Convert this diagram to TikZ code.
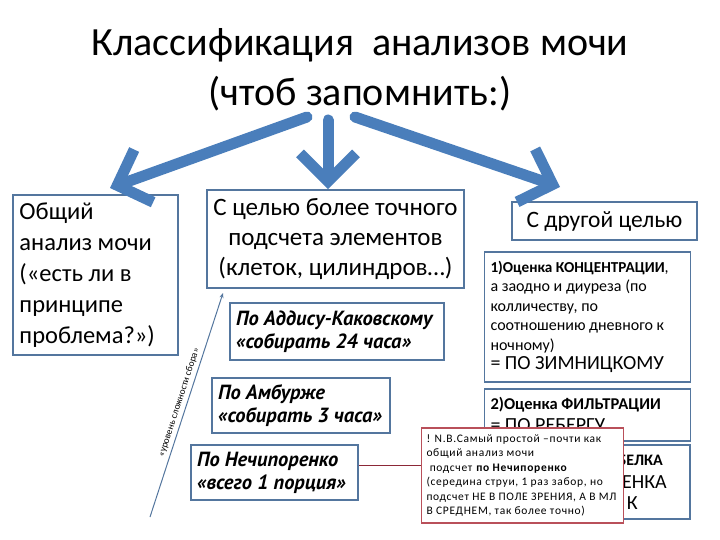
\documentclass[tikz,border=0pt]{standalone}
\usepackage{fontspec}
\setmainfont{Carlito}
\newfontfamily\cursivefont{PT Sans}
\usepackage{tikz}
\usetikzlibrary{arrows.meta, positioning, calc}
\definecolor{arrowblue}{RGB}{74,126,187}
\definecolor{boxline}{RGB}{84,118,158}
\definecolor{notered}{RGB}{185,80,90}
\definecolor{linkred}{RGB}{140,40,55}
\newcommand{\fsz}[2]{\fontsize{#1}{#2}\selectfont}
\tikzstyle{bigbox}    = [rectangle, draw=boxline, line width=1.6pt, fill=white,
                         inner sep=6pt]
\tikzstyle{methodbox} = [bigbox, align=flush left,
                         font=\cursivefont\fsz{20.5}{23}\bfseries\itshape]
\tikzstyle{infobox}   = [bigbox, align=flush left, font=\fsz{16}{19.5}]
\tikzstyle{notebox}   = [rectangle, draw=notered, line width=1.4pt, fill=white,
                         align=flush left, inner sep=5pt,
                         font=\fsz{11.5}{14.4}\addfontfeature{LetterSpace=6}]
\tikzstyle{bigarrow}  = [-{Straight Barb[length=28pt, width=56pt]},
                         line width=11pt, draw=arrowblue, line cap=round]
\tikzstyle{levelline} = [-{Stealth[length=5pt, width=4pt]}, draw=boxline, line width=1pt]
\tikzstyle{noteline}  = [draw=linkred, line width=1.6pt]

\begin{document}
\begin{tikzpicture}[x=1pt, y=-1pt]
  \useasboundingbox (0,0) rectangle (720,540);

  \node[font=\fsz{40}{50}, align=center] (title) at (360,70)
    {Классификация\ \ анализов мочи\\(чтоб запомнить:)};

  \node[bigbox, minimum width=165pt, minimum height=160pt, text width=152pt,
        align=flush left, font=\fsz{24.5}{31}] (general) at (95.5,275)
    {Общий\\анализ мочи\\(«есть ли в\\принципе\\проблема?»)};
  \node[bigbox, minimum width=257pt, minimum height=98pt, align=flush center,
        font=\fsz{25}{30}] (counting) at (335.5,239)
    {С целью более точного\\подсчета элементов\\(клеток, цилиндров…)};
  \node[bigbox, minimum width=185pt, minimum height=38pt, font=\fsz{23.5}{28}]
    (other) at (604.5,221) {С другой целью};

  \node[methodbox, minimum width=214pt, minimum height=57pt, text width=202pt]
    (addis) at (337,331.5) {По Аддису-Каковскому\\«собирать 24 часа»};
  \node[methodbox, minimum width=178pt, minimum height=55pt, text width=166pt]
    (amburge) at (301,405.5) {По Амбурже\\«собирать 3 часа»};
  \node[methodbox, minimum width=165pt, minimum height=55pt, text width=155pt]
    (nechip) at (274.5,472.5) {По Нечипоренко\\«всего 1 порция»};

  \node[infobox, minimum width=205pt, minimum height=130pt, text width=194pt]
    (zimn) at (587.5,317)
    {{\fsz{15.2}{19.5}\bfseries 1)Оценка КОНЦЕНТРАЦИИ}, \\а заодно и диуреза (по\\
     колличеству, по\\соотношению дневного к\\ночному)\\{\fsz{20}{22}= ПО ЗИМНИЦКОМУ}};
  \node[infobox, minimum width=205pt, minimum height=52pt, text width=194pt,
        anchor=north, font=\fsz{16.5}{22}] (reberg) at (587.5,388)
    {{\bfseries 2)Оценка ФИЛЬТРАЦИИ}\\{\fsz{20}{22}= ПО РЕБЕРГУ}};
  \node[bigbox, minimum width=205pt, minimum height=74pt] (protein) at (587.5,482) {};
  \node[anchor=east, inner sep=0pt, font=\fsz{16}{18}\bfseries] (protein1)
    at (663,460) {БЕЛКА};
  \node[anchor=east, inner sep=0pt, font=\fsz{20}{22}] (protein2)
    at (667,482) {ЕНКА};
  \node[anchor=east, inner sep=0pt, font=\fsz{20}{22}] (protein3)
    at (638,503) {К};

  \node[notebox, minimum width=201pt, minimum height=95pt, text width=192pt]
    (note) at (522.5,475.5)
    {! N.B.Самый простой –почти как\\общий анализ мочи\\
     \ подсчет \textbf{по Нечипоренко}\\(середина струи, 1 раз забор, но\\
     подсчет НЕ В ПОЛЕ ЗРЕНИЯ, А В МЛ\\В СРЕДНЕМ, так более точно)};

  \coordinate (l0) at (307,117);
  \coordinate (l1) at (110,188);
  \coordinate (m0) at (328,120);
  \coordinate (r0) at (355,117);
  \coordinate (r1) at (560,187);
  \coordinate (lv0) at (150,517);
  \coordinate (lv1) at (223,293);
  \coordinate (nlink) at ([yshift=7pt]nechip.east);

  \draw[bigarrow] (l0) -- (l1);
  \draw[bigarrow] (m0) -- (m0 |- counting.north);
  \draw[bigarrow] (r0) -- (r1);

  \draw[levelline] (lv0) -- (lv1)
    node[midway, sloped, above, font=\fsz{9.5}{11}] {«уровень сложности сбора»};
  \draw[noteline] (nlink) -- (note.west |- nlink);
\end{tikzpicture}
\end{document}
